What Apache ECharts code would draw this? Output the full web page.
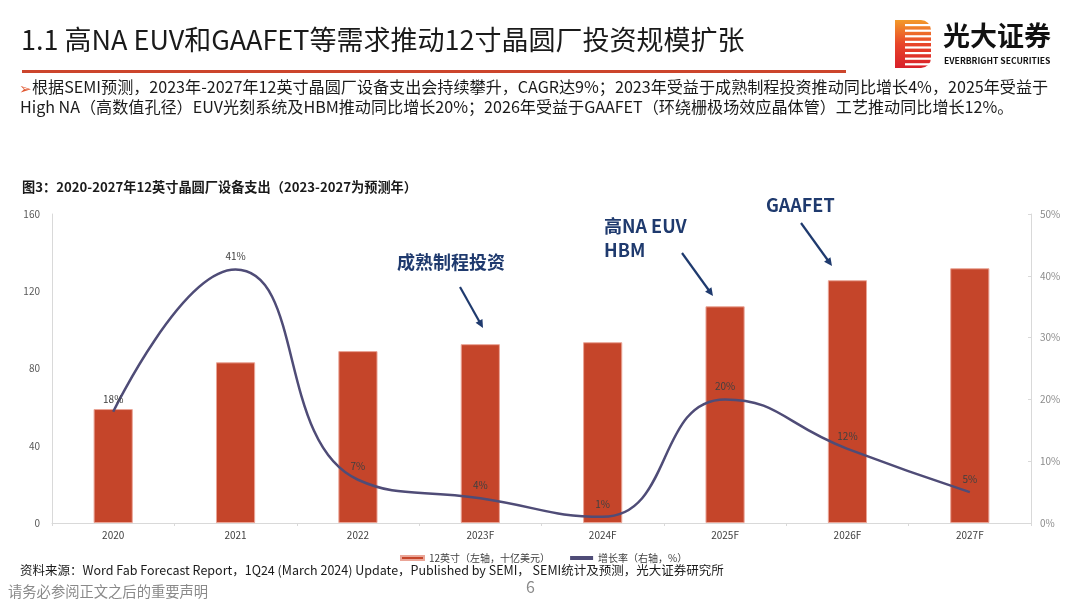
<!DOCTYPE html>
<html><head><meta charset="utf-8">
<script src="https://cdn.jsdelivr.net/npm/echarts@6/dist/echarts.min.js"></script>
<style>html,body{margin:0;padding:0;background:#fff}#c{width:1080px;height:608px}</style>
</head><body><div id="c"></div>
<script>
var categories = ['2020','2021','2022','2023F','2024F','2025F','2026F','2027F'];
var spending = [59, 83.2, 89, 92.6, 93.6, 112.2, 125.7, 131.9];
var growth = [18, 41, 7, 4, 1, 20, 12, 5];
var leftTicks = [0, 40, 80, 120, 160];
var rightTicks = [0, 10, 20, 30, 40, 50];

var CJK = '"Noto Sans CJK SC", "Noto Sans", sans-serif';
var navy = '#1f3a6e';
var chart = echarts.init(document.getElementById('c'), null, {renderer:'canvas'});

function arrow(x1,y1,x2,y2){
  var a = Math.atan2(y2-y1,x2-x1), L=9, w=0.45;
  return [
    {type:'line', shape:{x1:x1,y1:y1,x2:x2-Math.cos(a)*4,y2:y2-Math.sin(a)*4}, style:{stroke:navy,lineWidth:2.2}},
    {type:'polygon', shape:{points:[[x2,y2],[x2-L*Math.cos(a-w),y2-L*Math.sin(a-w)],[x2-L*Math.cos(a+w),y2-L*Math.sin(a+w)]]}, style:{fill:navy}}
  ];
}

var graphics = [
  {type:'text', left:21, top:26, style:{text:'1.1 高NA EUV和GAAFET等需求推动12寸晶圆厂投资规模扩张', font:'400 27px '+CJK, fill:'#1a1a1a'}},
  {type:'rect', shape:{x:22,y:70,width:824,height:3}, style:{fill:'#cc452c'}},
  {type:'text', left:19, top:81, style:{text:'➢', font:'15px '+CJK, fill:'#e0562f'}},
  {type:'text', left:32, top:79, style:{text:'根据SEMI预测，2023年-2027年12英寸晶圆厂设备支出会持续攀升，CAGR达9%；2023年受益于成熟制程投资推动同比增长4%，2025年受益于', font:'16.1px '+CJK, fill:'#1a1a1a'}},
  {type:'text', left:20, top:99, style:{text:'High NA（高数值孔径）EUV光刻系统及HBM推动同比增长20%；2026年受益于GAAFET（环绕栅极场效应晶体管）工艺推动同比增长12%。', font:'16.1px '+CJK, fill:'#1a1a1a'}},
  {type:'text', left:22, top:180, style:{text:'图3：2020-2027年12英寸晶圆厂设备支出（2023-2027为预测年）', font:'bold 13.2px '+CJK, fill:'#1a1a1a'}},
  {type:'text', left:397, top:253, style:{text:'成熟制程投资', font:'bold 18px '+CJK, fill:navy}},
  {type:'text', left:604, top:214, style:{text:'高NA EUV\nHBM', font:'bold 18px '+CJK, fill:navy, lineHeight:24}},
  {type:'text', left:766, top:196, style:{text:'GAAFET', font:'bold 18px '+CJK, fill:navy}},
  {type:'text', left:20, top:564, style:{text:'资料来源：Word Fab Forecast Report，1Q24 (March 2024) Update，Published by SEMI， SEMI统计及预测，光大证券研究所', font:'12.5px '+CJK, fill:'#1a1a1a'}},
  {type:'text', left:8, top:584, style:{text:'请务必参阅正文之后的重要声明', font:'14.3px '+CJK, fill:'#8a8a8a'}},
  {type:'text', left:526, top:579, style:{text:'6', font:'16px '+CJK, fill:'#8a8a8a'}},
  // logo
  {type:'rect', shape:{x:895,y:20,width:36,height:48,r:[0,10,10,0]}, style:{fill:new echarts.graphic.LinearGradient(0,0,0,1,[{offset:0,color:'#f39a2a'},{offset:0.5,color:'#e8452a'},{offset:1,color:'#d8202a'}])}},
  {type:'text', left:943, top:22, style:{text:'光大证券', font:'bold 27px '+CJK, fill:'#111'}},
  {type:'text', left:944, top:56, style:{text:'EVERBRIGHT SECURITIES', font:'bold 8.6px '+CJK, fill:'#111'}}
];
for (var i=0;i<8;i++){
  graphics.push({type:'rect', shape:{x:905,y:24+i*5.6,width:30,height:2.2}, style:{fill:'#fff'}});
}
graphics = graphics.concat(arrow(460,287,483,328), arrow(682,253,713,296), arrow(801,223,832,266));

chart.setOption({
  animation:false,
  textStyle:{fontFamily:CJK},
  grid:{left:52, right:49, top:214, bottom:85},
  legend:{
    left:395, top:548, itemGap:20, itemWidth:23, itemHeight:4,
    textStyle:{fontSize:10, color:'#404040', fontFamily:CJK},
    data:[{name:'12英寸（左轴，十亿美元）', icon:'rect'},{name:'增长率（右轴，%）', icon:'rect'}]
  },
  xAxis:{
    type:'category', data:categories, boundaryGap:true,
    axisLine:{lineStyle:{color:'#d9d9d9'}},
    axisTick:{show:true, length:3, lineStyle:{color:'#d9d9d9'}},
    axisLabel:{fontSize:10, color:'#404040', margin:7}
  },
  yAxis:[
    {type:'value', min:leftTicks[0], max:leftTicks[leftTicks.length-1], interval:40,
     axisLine:{show:true, lineStyle:{color:'#d9d9d9'}}, axisTick:{show:false},
     splitLine:{show:false}, axisLabel:{fontSize:10, color:'#595959', margin:12}},
    {type:'value', min:rightTicks[0], max:rightTicks[rightTicks.length-1], interval:10, position:'right',
     axisLine:{show:true, lineStyle:{color:'#d9d9d9'}}, axisTick:{show:true, inside:true, length:3, lineStyle:{color:'#d9d9d9'}},
     splitLine:{show:false}, axisLabel:{fontSize:10, color:'#8c8c8c', margin:9, formatter:'{value}%'}}
  ],
  series:[
    {name:'12英寸（左轴，十亿美元）', type:'bar', data:spending, yAxisIndex:0, barWidth:'32%',
     itemStyle:{color:'#c5452a', borderColor:'#eaa597', borderWidth:1}},
    {name:'增长率（右轴，%）', type:'line', data:growth, yAxisIndex:1, smooth:0.5,
     symbol:'circle', symbolSize:0.1, itemStyle:{color:'#4f4c77'},
     lineStyle:{color:'#4f4c77', width:2.5},
     label:{show:true, position:'top', distance:8, fontSize:10, color:'#404040', formatter:'{c}%'}}
  ],
  graphic:graphics
});
</script></body></html>
